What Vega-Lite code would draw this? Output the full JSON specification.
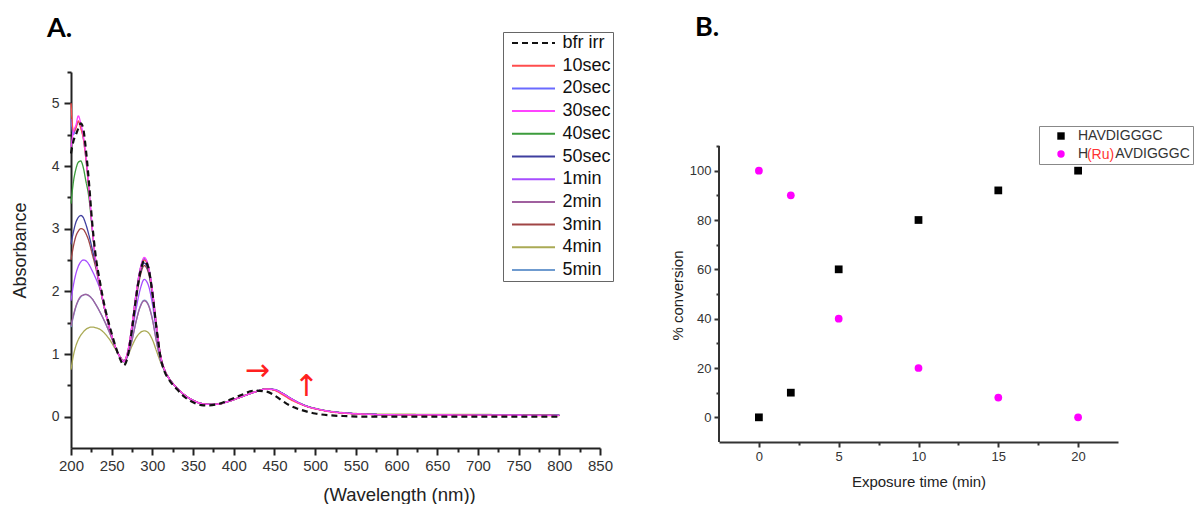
{
"$schema": "https://vega.github.io/schema/vega-lite/v6.json",
"background": "white",
"padding": {"left": 11, "top": 14, "right": 0, "bottom": 0},
"spacing": 56,
"resolve": {"scale": {"color": "independent", "shape": "independent", "strokeDash": "independent"}, "legend": {"color": "independent", "shape": "independent", "strokeDash": "independent"}},
"config": {
  "view": {"stroke": null},
  "font": "Liberation Sans",
  "axis": {"grid": false, "domainColor": "#222", "tickColor": "#222", "labelColor": "#333", "titleColor": "#222", "labelFont": "Liberation Sans", "titleFont": "Liberation Sans", "titleFontWeight": "normal", "domainWidth": 2, "tickWidth": 2},
  "title": {"font": "Lato", "fontWeight": "bold", "fontSize": 27, "anchor": "start", "frame": "group", "color": "#000"}
},
"datasets": {
  "spec": [
{"w":200,"s":"4min","a":0.75},{"w":203,"s":"4min","a":0.98},{"w":206,"s":"4min","a":1.13},{"w":209,"s":"4min","a":1.23},{"w":212,"s":"4min","a":1.3},{"w":215,"s":"4min","a":1.35},{"w":218,"s":"4min","a":1.39},{"w":222,"s":"4min","a":1.42},{"w":226,"s":"4min","a":1.43},{"w":230,"s":"4min","a":1.42},{"w":236,"s":"4min","a":1.39},{"w":242,"s":"4min","a":1.32},{"w":248,"s":"4min","a":1.22},{"w":254,"s":"4min","a":1.09},{"w":260,"s":"4min","a":0.96},{"w":265,"s":"4min","a":0.9},{"w":270,"s":"4min","a":0.98},{"w":275,"s":"4min","a":1.13},{"w":280,"s":"4min","a":1.26},{"w":285,"s":"4min","a":1.34},{"w":290,"s":"4min","a":1.37},{"w":295,"s":"4min","a":1.34},{"w":300,"s":"4min","a":1.23},{"w":305,"s":"4min","a":1.05},{"w":310,"s":"4min","a":0.87},{"w":315,"s":"4min","a":0.74},
{"w":320,"s":"4min","a":0.62},{"w":330,"s":"4min","a":0.46},{"w":340,"s":"4min","a":0.34},{"w":350,"s":"4min","a":0.26},{"w":360,"s":"4min","a":0.21},{"w":370,"s":"4min","a":0.195},{"w":380,"s":"4min","a":0.2},{"w":395,"s":"4min","a":0.25},{"w":410,"s":"4min","a":0.32},{"w":425,"s":"4min","a":0.39},{"w":440,"s":"4min","a":0.44},{"w":450,"s":"4min","a":0.43},{"w":460,"s":"4min","a":0.37},{"w":470,"s":"4min","a":0.29},{"w":480,"s":"4min","a":0.22},{"w":490,"s":"4min","a":0.17},{"w":500,"s":"4min","a":0.135},{"w":520,"s":"4min","a":0.085},{"w":540,"s":"4min","a":0.06},{"w":560,"s":"4min","a":0.045},{"w":600,"s":"4min","a":0.04},{"w":700,"s":"4min","a":0.035},{"w":800,"s":"4min","a":0.03},

{"w":200,"s":"5min","a":1.43},{"w":203,"s":"5min","a":1.6},{"w":206,"s":"5min","a":1.75},{"w":209,"s":"5min","a":1.85},{"w":212,"s":"5min","a":1.91},{"w":215,"s":"5min","a":1.94},{"w":218,"s":"5min","a":1.95},{"w":222,"s":"5min","a":1.93},{"w":226,"s":"5min","a":1.88},{"w":230,"s":"5min","a":1.8},{"w":236,"s":"5min","a":1.66},{"w":242,"s":"5min","a":1.5},{"w":248,"s":"5min","a":1.32},{"w":254,"s":"5min","a":1.12},{"w":260,"s":"5min","a":0.96},{"w":265,"s":"5min","a":0.89},{"w":270,"s":"5min","a":0.98},{"w":275,"s":"5min","a":1.22},{"w":280,"s":"5min","a":1.52},{"w":285,"s":"5min","a":1.76},{"w":290,"s":"5min","a":1.86},{"w":295,"s":"5min","a":1.79},{"w":300,"s":"5min","a":1.56},{"w":305,"s":"5min","a":1.2},{"w":310,"s":"5min","a":0.9},{"w":315,"s":"5min","a":0.73},
{"w":320,"s":"5min","a":0.62},{"w":330,"s":"5min","a":0.46},{"w":340,"s":"5min","a":0.34},{"w":350,"s":"5min","a":0.26},{"w":360,"s":"5min","a":0.21},{"w":370,"s":"5min","a":0.195},{"w":380,"s":"5min","a":0.2},{"w":395,"s":"5min","a":0.25},{"w":410,"s":"5min","a":0.32},{"w":425,"s":"5min","a":0.39},{"w":440,"s":"5min","a":0.445},{"w":450,"s":"5min","a":0.435},{"w":460,"s":"5min","a":0.375},{"w":470,"s":"5min","a":0.295},{"w":480,"s":"5min","a":0.225},{"w":490,"s":"5min","a":0.17},{"w":500,"s":"5min","a":0.13},{"w":520,"s":"5min","a":0.08},{"w":540,"s":"5min","a":0.055},{"w":560,"s":"5min","a":0.04},{"w":600,"s":"5min","a":0.03},{"w":700,"s":"5min","a":0.025},{"w":800,"s":"5min","a":0.02},

{"w":200,"s":"2min","a":1.45},{"w":203,"s":"2min","a":1.62},{"w":206,"s":"2min","a":1.76},{"w":209,"s":"2min","a":1.86},{"w":212,"s":"2min","a":1.92},{"w":215,"s":"2min","a":1.94},{"w":218,"s":"2min","a":1.95},{"w":222,"s":"2min","a":1.93},{"w":226,"s":"2min","a":1.88},{"w":230,"s":"2min","a":1.8},{"w":236,"s":"2min","a":1.66},{"w":242,"s":"2min","a":1.5},{"w":248,"s":"2min","a":1.32},{"w":254,"s":"2min","a":1.12},{"w":260,"s":"2min","a":0.96},{"w":265,"s":"2min","a":0.89},{"w":270,"s":"2min","a":0.98},{"w":275,"s":"2min","a":1.22},{"w":280,"s":"2min","a":1.52},{"w":285,"s":"2min","a":1.75},{"w":290,"s":"2min","a":1.85},{"w":295,"s":"2min","a":1.78},{"w":300,"s":"2min","a":1.55},{"w":305,"s":"2min","a":1.2},{"w":310,"s":"2min","a":0.9},{"w":315,"s":"2min","a":0.73},
{"w":320,"s":"2min","a":0.62},{"w":330,"s":"2min","a":0.46},{"w":340,"s":"2min","a":0.34},{"w":350,"s":"2min","a":0.26},{"w":360,"s":"2min","a":0.21},{"w":370,"s":"2min","a":0.195},{"w":380,"s":"2min","a":0.2},{"w":395,"s":"2min","a":0.25},{"w":410,"s":"2min","a":0.32},{"w":425,"s":"2min","a":0.39},{"w":440,"s":"2min","a":0.44},{"w":450,"s":"2min","a":0.43},{"w":460,"s":"2min","a":0.37},{"w":470,"s":"2min","a":0.29},{"w":480,"s":"2min","a":0.22},{"w":490,"s":"2min","a":0.165},{"w":500,"s":"2min","a":0.13},{"w":520,"s":"2min","a":0.08},{"w":540,"s":"2min","a":0.055},{"w":560,"s":"2min","a":0.04},{"w":600,"s":"2min","a":0.03},{"w":700,"s":"2min","a":0.025},{"w":800,"s":"2min","a":0.02},

{"w":200,"s":"1min","a":1.85},{"w":203,"s":"1min","a":2.1},{"w":206,"s":"1min","a":2.28},{"w":209,"s":"1min","a":2.4},{"w":212,"s":"1min","a":2.47},{"w":215,"s":"1min","a":2.5},{"w":218,"s":"1min","a":2.49},{"w":222,"s":"1min","a":2.43},{"w":226,"s":"1min","a":2.33},{"w":230,"s":"1min","a":2.22},{"w":236,"s":"1min","a":2.02},{"w":242,"s":"1min","a":1.7},{"w":248,"s":"1min","a":1.39},{"w":254,"s":"1min","a":1.13},{"w":260,"s":"1min","a":0.95},{"w":265,"s":"1min","a":0.88},{"w":270,"s":"1min","a":1.0},{"w":275,"s":"1min","a":1.33},{"w":280,"s":"1min","a":1.72},{"w":285,"s":"1min","a":2.03},{"w":290,"s":"1min","a":2.19},{"w":295,"s":"1min","a":2.1},{"w":300,"s":"1min","a":1.8},{"w":305,"s":"1min","a":1.35},{"w":310,"s":"1min","a":0.95},{"w":315,"s":"1min","a":0.74},
{"w":320,"s":"1min","a":0.62},{"w":330,"s":"1min","a":0.46},{"w":340,"s":"1min","a":0.34},{"w":350,"s":"1min","a":0.26},{"w":360,"s":"1min","a":0.21},{"w":370,"s":"1min","a":0.195},{"w":380,"s":"1min","a":0.2},{"w":395,"s":"1min","a":0.25},{"w":410,"s":"1min","a":0.32},{"w":425,"s":"1min","a":0.39},{"w":440,"s":"1min","a":0.44},{"w":450,"s":"1min","a":0.43},{"w":460,"s":"1min","a":0.37},{"w":470,"s":"1min","a":0.29},{"w":480,"s":"1min","a":0.22},{"w":490,"s":"1min","a":0.165},{"w":500,"s":"1min","a":0.13},{"w":520,"s":"1min","a":0.08},{"w":540,"s":"1min","a":0.055},{"w":560,"s":"1min","a":0.04},{"w":600,"s":"1min","a":0.03},{"w":700,"s":"1min","a":0.025},{"w":800,"s":"1min","a":0.02},

{"w":200,"s":"3min","a":2.5},{"w":203,"s":"3min","a":2.72},{"w":206,"s":"3min","a":2.88},{"w":209,"s":"3min","a":2.96},{"w":212,"s":"3min","a":3.0},{"w":215,"s":"3min","a":2.99},{"w":218,"s":"3min","a":2.93},{"w":222,"s":"3min","a":2.8},{"w":226,"s":"3min","a":2.6},{"w":230,"s":"3min","a":2.4},{"w":236,"s":"3min","a":2.03},{"w":242,"s":"3min","a":1.68},{"w":248,"s":"3min","a":1.38},{"w":254,"s":"3min","a":1.13},{"w":260,"s":"3min","a":0.96},{"w":265,"s":"3min","a":0.88},{"w":270,"s":"3min","a":1.02},{"w":275,"s":"3min","a":1.4},{"w":280,"s":"3min","a":1.87},{"w":285,"s":"3min","a":2.24},{"w":290,"s":"3min","a":2.41},{"w":295,"s":"3min","a":2.3},{"w":300,"s":"3min","a":1.94},{"w":305,"s":"3min","a":1.42},{"w":310,"s":"3min","a":0.97},{"w":315,"s":"3min","a":0.74},
{"w":320,"s":"3min","a":0.62},{"w":330,"s":"3min","a":0.46},{"w":340,"s":"3min","a":0.34},{"w":350,"s":"3min","a":0.26},{"w":360,"s":"3min","a":0.21},{"w":370,"s":"3min","a":0.195},{"w":380,"s":"3min","a":0.2},{"w":395,"s":"3min","a":0.25},{"w":410,"s":"3min","a":0.32},{"w":425,"s":"3min","a":0.39},{"w":440,"s":"3min","a":0.44},{"w":450,"s":"3min","a":0.43},{"w":460,"s":"3min","a":0.37},{"w":470,"s":"3min","a":0.29},{"w":480,"s":"3min","a":0.22},{"w":490,"s":"3min","a":0.165},{"w":500,"s":"3min","a":0.13},{"w":520,"s":"3min","a":0.08},{"w":540,"s":"3min","a":0.055},{"w":560,"s":"3min","a":0.04},{"w":600,"s":"3min","a":0.03},{"w":700,"s":"3min","a":0.025},{"w":800,"s":"3min","a":0.02},

{"w":200,"s":"50sec","a":2.75},{"w":203,"s":"50sec","a":2.95},{"w":206,"s":"50sec","a":3.1},{"w":209,"s":"50sec","a":3.18},{"w":212,"s":"50sec","a":3.21},{"w":215,"s":"50sec","a":3.18},{"w":218,"s":"50sec","a":3.08},{"w":222,"s":"50sec","a":2.9},{"w":226,"s":"50sec","a":2.68},{"w":230,"s":"50sec","a":2.45},{"w":236,"s":"50sec","a":2.05},{"w":242,"s":"50sec","a":1.68},{"w":248,"s":"50sec","a":1.38},{"w":254,"s":"50sec","a":1.13},{"w":260,"s":"50sec","a":0.96},{"w":265,"s":"50sec","a":0.88},{"w":270,"s":"50sec","a":1.03},{"w":275,"s":"50sec","a":1.42},{"w":280,"s":"50sec","a":1.9},{"w":285,"s":"50sec","a":2.28},{"w":290,"s":"50sec","a":2.45},{"w":295,"s":"50sec","a":2.33},{"w":300,"s":"50sec","a":1.96},{"w":305,"s":"50sec","a":1.43},{"w":310,"s":"50sec","a":0.97},{"w":315,"s":"50sec","a":0.74},
{"w":320,"s":"50sec","a":0.62},{"w":330,"s":"50sec","a":0.46},{"w":340,"s":"50sec","a":0.34},{"w":350,"s":"50sec","a":0.26},{"w":360,"s":"50sec","a":0.21},{"w":370,"s":"50sec","a":0.195},{"w":380,"s":"50sec","a":0.2},{"w":395,"s":"50sec","a":0.25},{"w":410,"s":"50sec","a":0.32},{"w":425,"s":"50sec","a":0.39},{"w":440,"s":"50sec","a":0.44},{"w":450,"s":"50sec","a":0.43},{"w":460,"s":"50sec","a":0.37},{"w":470,"s":"50sec","a":0.29},{"w":480,"s":"50sec","a":0.22},{"w":490,"s":"50sec","a":0.165},{"w":500,"s":"50sec","a":0.13},{"w":520,"s":"50sec","a":0.08},{"w":540,"s":"50sec","a":0.055},{"w":560,"s":"50sec","a":0.04},{"w":600,"s":"50sec","a":0.03},{"w":700,"s":"50sec","a":0.025},{"w":800,"s":"50sec","a":0.02},

{"w":200,"s":"40sec","a":3.4},{"w":203,"s":"40sec","a":3.75},{"w":206,"s":"40sec","a":3.95},{"w":209,"s":"40sec","a":4.06},{"w":212,"s":"40sec","a":4.08},{"w":215,"s":"40sec","a":3.98},{"w":218,"s":"40sec","a":3.78},{"w":222,"s":"40sec","a":3.5},{"w":226,"s":"40sec","a":3.0},{"w":230,"s":"40sec","a":2.52},{"w":236,"s":"40sec","a":2.06},{"w":242,"s":"40sec","a":1.68},{"w":248,"s":"40sec","a":1.38},{"w":254,"s":"40sec","a":1.13},{"w":260,"s":"40sec","a":0.96},{"w":265,"s":"40sec","a":0.88},{"w":270,"s":"40sec","a":1.05},{"w":275,"s":"40sec","a":1.46},{"w":280,"s":"40sec","a":1.96},{"w":285,"s":"40sec","a":2.35},{"w":290,"s":"40sec","a":2.52},{"w":295,"s":"40sec","a":2.4},{"w":300,"s":"40sec","a":2.01},{"w":305,"s":"40sec","a":1.45},{"w":310,"s":"40sec","a":0.98},{"w":315,"s":"40sec","a":0.75},
{"w":320,"s":"40sec","a":0.62},{"w":330,"s":"40sec","a":0.46},{"w":340,"s":"40sec","a":0.34},{"w":350,"s":"40sec","a":0.26},{"w":360,"s":"40sec","a":0.21},{"w":370,"s":"40sec","a":0.195},{"w":380,"s":"40sec","a":0.2},{"w":395,"s":"40sec","a":0.25},{"w":410,"s":"40sec","a":0.32},{"w":425,"s":"40sec","a":0.39},{"w":440,"s":"40sec","a":0.44},{"w":450,"s":"40sec","a":0.43},{"w":460,"s":"40sec","a":0.37},{"w":470,"s":"40sec","a":0.29},{"w":480,"s":"40sec","a":0.22},{"w":490,"s":"40sec","a":0.165},{"w":500,"s":"40sec","a":0.13},{"w":520,"s":"40sec","a":0.08},{"w":540,"s":"40sec","a":0.055},{"w":560,"s":"40sec","a":0.04},{"w":600,"s":"40sec","a":0.03},{"w":700,"s":"40sec","a":0.025},{"w":800,"s":"40sec","a":0.02},

{"w":200,"s":"20sec","a":4.75},{"w":203,"s":"20sec","a":4.5},{"w":206,"s":"20sec","a":4.62},{"w":209,"s":"20sec","a":4.7},{"w":212,"s":"20sec","a":4.62},{"w":215,"s":"20sec","a":4.45},{"w":218,"s":"20sec","a":4.15},{"w":222,"s":"20sec","a":3.62},{"w":226,"s":"20sec","a":3.02},{"w":230,"s":"20sec","a":2.52},{"w":236,"s":"20sec","a":2.06},{"w":242,"s":"20sec","a":1.68},{"w":248,"s":"20sec","a":1.38},{"w":254,"s":"20sec","a":1.13},{"w":260,"s":"20sec","a":0.96},{"w":265,"s":"20sec","a":0.88},{"w":270,"s":"20sec","a":1.05},{"w":275,"s":"20sec","a":1.46},{"w":280,"s":"20sec","a":1.96},{"w":285,"s":"20sec","a":2.35},{"w":290,"s":"20sec","a":2.52},{"w":295,"s":"20sec","a":2.4},{"w":300,"s":"20sec","a":2.01},{"w":305,"s":"20sec","a":1.45},{"w":310,"s":"20sec","a":0.98},{"w":315,"s":"20sec","a":0.75},
{"w":320,"s":"20sec","a":0.62},{"w":330,"s":"20sec","a":0.46},{"w":340,"s":"20sec","a":0.34},{"w":350,"s":"20sec","a":0.26},{"w":360,"s":"20sec","a":0.21},{"w":370,"s":"20sec","a":0.195},{"w":380,"s":"20sec","a":0.2},{"w":395,"s":"20sec","a":0.25},{"w":410,"s":"20sec","a":0.32},{"w":425,"s":"20sec","a":0.39},{"w":440,"s":"20sec","a":0.44},{"w":450,"s":"20sec","a":0.43},{"w":460,"s":"20sec","a":0.37},{"w":470,"s":"20sec","a":0.29},{"w":480,"s":"20sec","a":0.22},{"w":490,"s":"20sec","a":0.165},{"w":500,"s":"20sec","a":0.13},{"w":520,"s":"20sec","a":0.08},{"w":540,"s":"20sec","a":0.055},{"w":560,"s":"20sec","a":0.04},{"w":600,"s":"20sec","a":0.03},{"w":700,"s":"20sec","a":0.025},{"w":800,"s":"20sec","a":0.02},

{"w":200,"s":"10sec","a":5.0},{"w":203,"s":"10sec","a":4.55},{"w":206,"s":"10sec","a":4.6},{"w":209,"s":"10sec","a":4.72},{"w":212,"s":"10sec","a":4.6},{"w":215,"s":"10sec","a":4.45},{"w":218,"s":"10sec","a":4.15},{"w":222,"s":"10sec","a":3.62},{"w":226,"s":"10sec","a":3.02},{"w":230,"s":"10sec","a":2.52},{"w":236,"s":"10sec","a":2.06},{"w":242,"s":"10sec","a":1.68},{"w":248,"s":"10sec","a":1.38},{"w":254,"s":"10sec","a":1.13},{"w":260,"s":"10sec","a":0.96},{"w":265,"s":"10sec","a":0.88},{"w":270,"s":"10sec","a":1.05},{"w":275,"s":"10sec","a":1.45},{"w":280,"s":"10sec","a":1.95},{"w":285,"s":"10sec","a":2.33},{"w":290,"s":"10sec","a":2.5},{"w":295,"s":"10sec","a":2.38},{"w":300,"s":"10sec","a":2.0},{"w":305,"s":"10sec","a":1.45},{"w":310,"s":"10sec","a":0.98},{"w":315,"s":"10sec","a":0.75},
{"w":320,"s":"10sec","a":0.62},{"w":330,"s":"10sec","a":0.46},{"w":340,"s":"10sec","a":0.34},{"w":350,"s":"10sec","a":0.26},{"w":360,"s":"10sec","a":0.21},{"w":370,"s":"10sec","a":0.195},{"w":380,"s":"10sec","a":0.2},{"w":395,"s":"10sec","a":0.25},{"w":410,"s":"10sec","a":0.32},{"w":425,"s":"10sec","a":0.39},{"w":440,"s":"10sec","a":0.44},{"w":450,"s":"10sec","a":0.42},{"w":460,"s":"10sec","a":0.35},{"w":470,"s":"10sec","a":0.27},{"w":480,"s":"10sec","a":0.21},{"w":490,"s":"10sec","a":0.16},{"w":500,"s":"10sec","a":0.125},{"w":520,"s":"10sec","a":0.075},{"w":540,"s":"10sec","a":0.05},{"w":560,"s":"10sec","a":0.038},{"w":600,"s":"10sec","a":0.028},{"w":700,"s":"10sec","a":0.022},{"w":800,"s":"10sec","a":0.018},

{"w":200,"s":"30sec","a":4.3},{"w":203,"s":"30sec","a":4.55},{"w":206,"s":"30sec","a":4.65},{"w":209,"s":"30sec","a":4.8},{"w":212,"s":"30sec","a":4.68},{"w":215,"s":"30sec","a":4.5},{"w":218,"s":"30sec","a":4.2},{"w":222,"s":"30sec","a":3.65},{"w":226,"s":"30sec","a":3.03},{"w":230,"s":"30sec","a":2.53},{"w":236,"s":"30sec","a":2.06},{"w":242,"s":"30sec","a":1.68},{"w":248,"s":"30sec","a":1.38},{"w":254,"s":"30sec","a":1.13},{"w":260,"s":"30sec","a":0.96},{"w":265,"s":"30sec","a":0.88},{"w":270,"s":"30sec","a":1.06},{"w":275,"s":"30sec","a":1.47},{"w":280,"s":"30sec","a":1.97},{"w":285,"s":"30sec","a":2.36},{"w":290,"s":"30sec","a":2.54},{"w":295,"s":"30sec","a":2.41},{"w":300,"s":"30sec","a":2.02},{"w":305,"s":"30sec","a":1.46},{"w":310,"s":"30sec","a":0.98},{"w":315,"s":"30sec","a":0.75},
{"w":320,"s":"30sec","a":0.62},{"w":330,"s":"30sec","a":0.46},{"w":340,"s":"30sec","a":0.34},{"w":350,"s":"30sec","a":0.26},{"w":360,"s":"30sec","a":0.21},{"w":370,"s":"30sec","a":0.195},{"w":380,"s":"30sec","a":0.2},{"w":395,"s":"30sec","a":0.25},{"w":410,"s":"30sec","a":0.32},{"w":425,"s":"30sec","a":0.39},{"w":440,"s":"30sec","a":0.44},{"w":450,"s":"30sec","a":0.43},{"w":460,"s":"30sec","a":0.37},{"w":470,"s":"30sec","a":0.29},{"w":480,"s":"30sec","a":0.22},{"w":490,"s":"30sec","a":0.165},{"w":500,"s":"30sec","a":0.13},{"w":520,"s":"30sec","a":0.08},{"w":540,"s":"30sec","a":0.055},{"w":560,"s":"30sec","a":0.04},{"w":600,"s":"30sec","a":0.03},{"w":700,"s":"30sec","a":0.025},{"w":800,"s":"30sec","a":0.02},

{"w":200,"s":"bfr irr","a":4.2},{"w":203,"s":"bfr irr","a":4.4},{"w":206,"s":"bfr irr","a":4.5},{"w":209,"s":"bfr irr","a":4.6},{"w":212,"s":"bfr irr","a":4.68},{"w":215,"s":"bfr irr","a":4.6},{"w":218,"s":"bfr irr","a":4.3},{"w":222,"s":"bfr irr","a":3.75},{"w":226,"s":"bfr irr","a":3.1},{"w":230,"s":"bfr irr","a":2.6},{"w":236,"s":"bfr irr","a":2.12},{"w":242,"s":"bfr irr","a":1.72},{"w":248,"s":"bfr irr","a":1.42},{"w":254,"s":"bfr irr","a":1.15},{"w":260,"s":"bfr irr","a":0.93},{"w":265,"s":"bfr irr","a":0.82},{"w":270,"s":"bfr irr","a":0.98},{"w":275,"s":"bfr irr","a":1.4},{"w":280,"s":"bfr irr","a":1.9},{"w":285,"s":"bfr irr","a":2.3},{"w":290,"s":"bfr irr","a":2.49},{"w":295,"s":"bfr irr","a":2.38},{"w":300,"s":"bfr irr","a":1.98},{"w":305,"s":"bfr irr","a":1.42},{"w":310,"s":"bfr irr","a":0.95},{"w":315,"s":"bfr irr","a":0.72},
{"w":320,"s":"bfr irr","a":0.6},{"w":330,"s":"bfr irr","a":0.44},{"w":340,"s":"bfr irr","a":0.31},{"w":350,"s":"bfr irr","a":0.23},{"w":360,"s":"bfr irr","a":0.185},{"w":370,"s":"bfr irr","a":0.18},{"w":380,"s":"bfr irr","a":0.2},{"w":395,"s":"bfr irr","a":0.27},{"w":410,"s":"bfr irr","a":0.35},{"w":425,"s":"bfr irr","a":0.415},{"w":440,"s":"bfr irr","a":0.4},{"w":450,"s":"bfr irr","a":0.34},{"w":460,"s":"bfr irr","a":0.25},{"w":470,"s":"bfr irr","a":0.17},{"w":480,"s":"bfr irr","a":0.12},{"w":490,"s":"bfr irr","a":0.08},{"w":500,"s":"bfr irr","a":0.05},{"w":520,"s":"bfr irr","a":0.02},{"w":540,"s":"bfr irr","a":0.008},{"w":560,"s":"bfr irr","a":0.0},{"w":600,"s":"bfr irr","a":0.0},{"w":700,"s":"bfr irr","a":0.0},{"w":800,"s":"bfr irr","a":0.0}
  ],
  "arr": [{"x": 429, "y": 0.73, "t": "→"}, {"x": 489, "y": 0.47, "t": "↑"}],
  "conv": [
    {"t": 0, "c": 0, "p": "HAVDIGGGC"}, {"t": 2, "c": 10, "p": "HAVDIGGGC"}, {"t": 5, "c": 60, "p": "HAVDIGGGC"}, {"t": 10, "c": 80, "p": "HAVDIGGGC"}, {"t": 15, "c": 92, "p": "HAVDIGGGC"}, {"t": 20, "c": 100, "p": "HAVDIGGGC"},
    {"t": 0, "c": 100, "p": "H(Ru)AVDIGGGC"}, {"t": 2, "c": 90, "p": "H(Ru)AVDIGGGC"}, {"t": 5, "c": 40, "p": "H(Ru)AVDIGGGC"}, {"t": 10, "c": 20, "p": "H(Ru)AVDIGGGC"}, {"t": 15, "c": 8, "p": "H(Ru)AVDIGGGC"}, {"t": 20, "c": 0, "p": "H(Ru)AVDIGGGC"}
  ],
  "rb": [{"x": -2.5, "y": -10, "y2": 110}],
  "ru": [{"x": 20.55, "y": 106.5, "t": "(Ru)"}]
},
"hconcat": [
  {
    "width": 529, "height": 376,
    "title": {"text": "A.", "dx": -24, "dy": 15},
    "resolve": {"axis": {"x": "independent", "y": "independent"}},
    "layer": [
      {
        "data": {"name": "spec"},
        "transform": [{"filter": "datum.s != 'bfr irr'"}],
        "mark": {"type": "line", "interpolate": "monotone", "strokeWidth": 1.3},
        "encoding": {
          "x": {"field": "w", "type": "quantitative", "scale": {"domain": [200, 850], "nice": false, "zero": false},
                "axis": {"orient": "bottom", "values": [200,250,300,350,400,450,500,550,600,650,700,750,800,850], "title": "(Wavelength (nm))", "titleFontSize": 18.5, "titleX": 328, "titleY": 52, "titleBaseline": "alphabetic", "labelFontSize": 15, "tickSize": 7, "labelPadding": 3, "labelFlush": false}},
          "y": {"field": "a", "type": "quantitative", "scale": {"domain": [-0.5, 5.5], "nice": false, "zero": false},
                "axis": {"orient": "left", "values": [0,1,2,3,4,5], "title": "Absorbance", "titleFontSize": 18, "titleX": -51, "titleY": 178, "titleBaseline": "middle", "labelFontSize": 14, "tickSize": 7, "labelPadding": 5}},
          "color": {"field": "s", "type": "nominal",
                    "scale": {"domain": ["bfr irr","10sec","20sec","30sec","40sec","50sec","1min","2min","3min","4min","5min"],
                              "range": ["#111111","#ff4d4d","#6a6aff","#ff44ff","#3c9c3c","#3f3f9f","#a64dff","#a0609f","#a04545","#aaaa55","#6f9bcf"]},
                    "legend": {"orient": "none", "legendX": 432, "legendY": -40, "title": null, "symbolType": "M-4.3,0H4.3", "symbolSize": 100, "symbolStrokeWidth": 2, "symbolFillColor": "transparent", "labelFontSize": 18, "labelFont": "Liberation Sans", "labelColor": "#111", "strokeColor": "#666", "fillColor": "white", "padding": 2, "rowPadding": 4.7, "labelOffset": 20, "symbolOffset": 19.5}},
          "strokeDash": {"field": "s", "type": "nominal",
                    "scale": {"domain": ["bfr irr","10sec","20sec","30sec","40sec","50sec","1min","2min","3min","4min","5min"],
                              "range": [[6,4],[1,0],[1,0],[1,0],[1,0],[1,0],[1,0],[1,0],[1,0],[1,0],[1,0]]},
                    "legend": {"orient": "none", "legendX": 432, "legendY": -40, "title": null, "symbolType": "M-4.3,0H4.3", "symbolSize": 100, "symbolStrokeWidth": 2, "symbolFillColor": "transparent", "labelFontSize": 18, "labelFont": "Liberation Sans", "labelColor": "#111", "strokeColor": "#666", "fillColor": "white", "padding": 2, "rowPadding": 4.7, "labelOffset": 20, "symbolOffset": 19.5}}
        }
      },
      {
        "data": {"name": "spec"},
        "transform": [{"filter": "datum.s == 'bfr irr'"}],
        "mark": {"type": "line", "interpolate": "monotone", "strokeWidth": 2.2},
        "encoding": {
          "x": {"field": "w", "type": "quantitative", "axis": null},
          "y": {"field": "a", "type": "quantitative", "axis": null},
          "color": {"field": "s", "type": "nominal"},
          "strokeDash": {"field": "s", "type": "nominal"}
        }
      },
      {
        "data": {"name": "arr"},
        "mark": {"type": "text", "font": "DejaVu Sans", "fontSize": 30, "color": "#ff2020", "align": "center", "baseline": "middle"},
        "encoding": {
          "x": {"field": "x", "type": "quantitative", "axis": {"orient": "bottom", "values": [225,275,325,375,425,475,525,575,625,675,725,775,825], "labels": false, "domain": false, "tickSize": 4, "title": null}},
          "y": {"field": "y", "type": "quantitative", "axis": {"orient": "left", "values": [0.5,1.5,2.5,3.5,4.5,5.5], "labels": false, "domain": false, "tickSize": 4, "title": null}},
          "text": {"field": "t"}
        }
      }
    ]
  },
  {
    "width": 399, "height": 370,
    "title": {"text": "B.", "dx": -24, "dy": -26},
    "resolve": {"axis": {"x": "independent", "y": "independent"}},
    "layer": [
      {
        "data": {"name": "conv"},
        "mark": {"type": "point", "filled": true, "opacity": 1},
        "encoding": {
          "x": {"field": "t", "type": "quantitative", "scale": {"domain": [-2.5, 22.5], "nice": false, "zero": false},
                "axis": {"orient": "bottom", "values": [0,5,10,15,20], "title": "Exposure time (min)", "titleFontSize": 15, "titleY": 39, "titleBaseline": "middle", "labelFontSize": 13, "tickSize": 5, "labelPadding": 3, "domainColor": "#333", "tickColor": "#333"}},
          "y": {"field": "c", "type": "quantitative", "scale": {"domain": [-10, 140], "nice": false, "zero": false},
                "axis": {"orient": "left", "values": [0,20,40,60,80,100], "title": "% conversion", "titleFontSize": 15, "titleX": -42, "titleY": 223, "titleBaseline": "middle", "labelFontSize": 13, "tickSize": 5, "labelPadding": 3, "domain": false, "tickColor": "#333"}},
          "color": {"field": "p", "type": "nominal", "scale": {"domain": ["HAVDIGGGC", "H(Ru)AVDIGGGC"], "range": ["#000000", "#ff00ff"]},
                    "legend": {"orient": "none", "legendX": 320, "legendY": 54, "title": null, "symbolSize": 55, "labelFontSize": 14, "labelColor": "#333", "strokeColor": "#888", "padding": 3, "rowPadding": 4, "labelOffset": 10, "symbolOffset": 12,
                               "labelExpr": "datum.label == 'H(Ru)AVDIGGGC' ? '\u00a0H\u00a0\u00a0\u00a0\u00a0\u00a0\u00a0\u00a0AVDIGGGC' : datum.label"}},
          "shape": {"field": "p", "type": "nominal", "scale": {"domain": ["HAVDIGGGC", "H(Ru)AVDIGGGC"], "range": ["square", "circle"]},
                    "legend": {"orient": "none", "legendX": 320, "legendY": 54, "title": null, "symbolSize": 55, "labelFontSize": 14, "labelColor": "#333", "strokeColor": "#888", "padding": 3, "rowPadding": 4, "labelOffset": 10, "symbolOffset": 12,
                               "labelExpr": "datum.label == 'H(Ru)AVDIGGGC' ? '\u00a0H\u00a0\u00a0\u00a0\u00a0\u00a0\u00a0\u00a0AVDIGGGC' : datum.label"}},
          "size": {"value": 60}
        }
      },
      {
        "data": {"name": "rb"},
        "mark": {"type": "rule", "color": "#333", "strokeWidth": 2, "clip": false},
        "encoding": {
          "x": {"field": "x", "type": "quantitative", "axis": {"orient": "bottom", "values": [2.5,7.5,12.5,17.5], "labels": false, "domain": false, "tickSize": 3, "title": null, "tickColor": "#333"}},
          "y": {"field": "y", "type": "quantitative", "axis": {"orient": "left", "values": [10,30,50,70,90,110], "labels": false, "domain": false, "tickSize": 3, "title": null, "tickColor": "#333"}},
          "y2": {"field": "y2"}
        }
      },
      {
        "data": {"name": "ru"},
        "mark": {"type": "text", "font": "Liberation Sans", "fontSize": 14, "color": "#ff3333", "align": "left", "baseline": "middle"},
        "encoding": {
          "x": {"field": "x", "type": "quantitative", "axis": null},
          "y": {"field": "y", "type": "quantitative", "axis": null},
          "text": {"field": "t"}
        }
      }
    ]
  }
]
}
